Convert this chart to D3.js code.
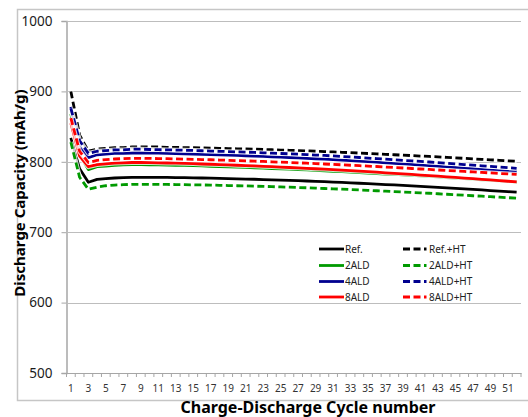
<!DOCTYPE html>
<html>
<head>
<meta charset="utf-8">
<script src="https://cdn.jsdelivr.net/npm/d3@7"></script>
<style>
body { margin: 0; background: #fff; }
text { font-family: "Noto Sans", "DejaVu Sans", sans-serif; }
</style>
</head>
<body>
<script>
const width = 528, height = 417;

// cycle numbers 1..52
const cycles = [1,2,3,4,5,6,7,8,9,10,11,12,13,14,15,16,17,18,19,20,21,22,23,24,25,26,
  27,28,29,30,31,32,33,34,35,36,37,38,39,40,41,42,43,44,45,46,47,48,49,50,51,52];
const yTicks = [500, 600, 700, 800, 900, 1000];
const xLabels = [1,3,5,7,9,11,13,15,17,19,21,23,25,27,29,31,33,35,37,39,41,43,45,47,49,51];

const refData = [834,790,771,775,776,777,777.5,778,778,
  778,777.9,777.8,777.6,777.4,777.2,777,776.7,776.4,776.1,775.8,775.5,775.2,774.8,774.4,774,773.6,773.2,
  772.7,772.2,771.7,771.2,770.7,770.1,769.5,768.9,768.3,767.7,767.1,766.5,765.8,765.1,764.4,763.7,763,
  762.3,761.6,760.8,760,759.2,758.4,757.6,756.8];
const ald2Data = [868,810,789,793,794,795,795.5,796,796,
  795.8,795.6,795.4,795.1,794.8,794.5,794.1,793.7,793.3,792.9,792.5,792,791.5,791,790.5,790,789.5,789,
  788.4,787.8,787.2,786.6,786,785.4,784.8,784.1,783.4,782.7,782,781.3,780.6,779.9,779.2,778.5,777.7,
  776.9,776.1,775.3,774.5,773.7,772.9,772.1,771.3];
const ald4Data = [878,822,806,810,811,812,812,812.5,812.5,
  812.5,812.2,811.9,811.6,811.3,811,810.6,810.2,809.8,809.4,809,808.6,808.1,807.6,807.1,806.6,806.1,805.5,
  804.9,804.3,803.7,803.1,802.4,801.7,801,800.2,799.4,798.6,797.8,797,796.2,795.4,794.6,793.7,792.8,
  791.9,791,790.1,789.2,788.3,787.4,786.5,785.6];
const ald8Data = [855,808,793,796,797,798,798.5,799,799,
  798.8,798.6,798.3,798,797.7,797.3,796.9,796.5,796.1,795.6,795.1,794.6,794.1,793.6,793.1,792.5,791.9,
  791.3,790.7,790.1,789.5,788.8,788.1,787.4,786.7,786,785.2,784.4,783.6,782.8,782,781.2,780.4,779.6,
  778.7,777.8,776.9,776,775.1,774.2,773.3,772.4,771.5];
const refHtData = [900,838,815,818,819,820,820,821,821,
  821,821,820.6,820.4,820.2,820,819.7,819.4,819.1,818.8,818.5,818.2,817.9,817.5,817.1,816.7,816.3,815.9,
  815.5,815,814.5,814,813.5,813,812.4,811.8,811.2,810.6,810,809.4,808.8,808.2,807.6,807,806.3,
  805.6,804.9,804.2,803.5,802.8,802.1,801.4,800.7];
const ald2HtData = [828,778,761,764,766,767,767.5,768,768,
  768,767.9,767.8,767.7,767.5,767.3,767.1,766.9,766.6,766.3,766,765.7,765.4,765.1,764.7,764.3,763.9,763.5,
  763.1,762.6,762.1,761.6,761.1,760.6,760.1,759.5,758.9,758.3,757.7,757.1,756.5,755.9,755.3,754.6,753.9,
  753.2,752.5,751.8,751.1,750.4,749.7,749,748.3];
const ald4HtData = [876,830,812,815,816,817,817,818,818,
  817.5,817.2,817,816.7,816.4,816.1,815.7,815.3,814.9,814.5,814.1,813.7,813.3,812.8,812.3,811.8,811.3,
  810.8,810.2,809.6,809,808.3,807.6,806.9,806.1,805.3,804.5,803.7,802.9,802.1,801.3,800.5,799.7,798.8,
  797.9,797,796.1,795.2,794.3,793.4,792.5,791.6,790.7];
const ald8HtData = [862,815,799,802,803,804,804.5,805,805,
  804.8,804.6,804.4,804.1,803.8,803.5,803.2,802.9,802.5,802.1,801.7,801.3,800.9,800.5,800,799.5,799,
  798.5,798,797.5,796.9,796.3,795.7,795.1,794.5,793.9,793.3,792.6,791.9,791.2,790.5,789.8,789.1,788.4,
  787.7,787,786.3,785.6,784.9,784.2,783.5,782.8,782.1];

const seriesNames = ['Ref.', '2ALD', '4ALD', '8ALD', 'Ref.+HT', '2ALD+HT', '4ALD+HT', '8ALD+HT'];
const seriesValues = [refData, ald2Data, ald4Data, ald8Data, refHtData, ald2HtData, ald4HtData, ald8HtData];
const colors = ['#000000', '#009a00', '#00008f', '#ff0000'];

const series = seriesNames.map((name, i) => ({
  name: name,
  values: seriesValues[i],
  color: colors[i % 4],
  dashed: i >= 4
}));

const plot = {left: 66.5, right: 521, top: 21, bottom: 373};

var svg = d3.select('body').append('svg')
    .attr('width', width)
    .attr('height', height);

// chart area border
svg.append('path')
    .attr('d', 'M540,9.5 H17.5 V400.5 H540')
    .attr('fill', 'none')
    .attr('stroke', '#c6c6c6')
    .attr('stroke-width', 1.5);

var x = d3.scaleBand()
    .domain(cycles)
    .range([plot.left, plot.right]);

var y = d3.scaleLinear()
    .domain([500, 1000])
    .range([plot.bottom, plot.top]);

// gridlines + y axis
var yAxis = svg.append('g')
    .attr('transform', `translate(${plot.left},0)`)
    .call(d3.axisLeft(y).tickValues(yTicks).tickSize(5).tickPadding(9).tickFormat(d3.format('d')));
yAxis.select('.domain').attr('stroke', '#a6a6a6').attr('stroke-width', 1.5);
yAxis.selectAll('.tick line').attr('stroke', '#a6a6a6');
yAxis.selectAll('.tick text')
    .attr('font-size', 13.5)
    .attr('fill', '#1a1a1a')
    .style('font-family', '"Noto Sans", "DejaVu Sans", sans-serif');

svg.append('g')
    .selectAll('line')
    .data(yTicks.filter(d => d > 500))
  .enter().append('line')
    .attr('x1', plot.left)
    .attr('x2', plot.right)
    .attr('y1', d => Math.round(y(d)) + 0.5)
    .attr('y2', d => Math.round(y(d)) + 0.5)
    .attr('stroke', '#bdbdbd')
    .attr('stroke-width', 1.2);

// x axis: labels on odd cycles, tick marks between categories
var xAxis = svg.append('g')
    .attr('transform', `translate(0,${plot.bottom})`)
    .call(d3.axisBottom(x).tickValues(xLabels).tickSize(0).tickPadding(12));
xAxis.select('.domain').attr('stroke', '#a6a6a6').attr('stroke-width', 1.2);
xAxis.selectAll('.tick text')
    .attr('font-size', 10)
    .attr('fill', '#333')
    .style('font-family', '"Noto Sans", "DejaVu Sans", sans-serif');

xAxis.append('g')
    .selectAll('line')
    .data(cycles.concat(['end']))
  .enter().append('line')
    .attr('x1', d => d === 'end' ? plot.right : x(d))
    .attr('x2', d => d === 'end' ? plot.right : x(d))
    .attr('y1', 0)
    .attr('y2', 4)
    .attr('stroke', '#a6a6a6');

// lines
var line = d3.line()
    .x((d, i) => x(cycles[i]) + x.bandwidth() / 2)
    .y(d => y(d));

var lines = svg.append('g');
series.forEach(s => {
  lines.append('path')
      .attr('d', line(s.values))
      .attr('fill', 'none')
      .attr('stroke', '#fff')
      .attr('stroke-opacity', 0.8)
      .attr('stroke-width', 4.8)
      .attr('stroke-linejoin', 'round');
  lines.append('path')
      .attr('d', line(s.values))
      .attr('fill', 'none')
      .attr('stroke', s.color)
      .attr('stroke-width', 2.8)
      .attr('stroke-linejoin', 'round')
      .attr('stroke-dasharray', s.dashed ? '7,3.5' : null);
});

// legend
var legend = svg.append('g');
var legendRows = [249, 265.5, 281.5, 297];
series.forEach((s, i) => {
  var lx = s.dashed ? 403 : 319,
      ly = legendRows[i % 4];
  legend.append('line')
      .attr('x1', lx).attr('x2', lx + 25)
      .attr('y1', ly).attr('y2', ly)
      .attr('stroke', s.color)
      .attr('stroke-width', 2.8)
      .attr('stroke-dasharray', s.dashed ? '7,3.5,7,3.5,2.5' : null);
  legend.append('text')
      .attr('x', lx + 26)
      .attr('y', ly + 3.5)
      .attr('font-size', 10)
      .attr('fill', '#222')
      .text(s.name);
});

// axis titles
svg.append('text')
    .attr('transform', 'translate(25,193) rotate(-90)')
    .attr('text-anchor', 'middle')
    .attr('font-size', 15)
    .attr('font-weight', 'bold')
    .text('Discharge Capacity (mAh/g)');

svg.append('text')
    .attr('x', 308)
    .attr('y', 412.5)
    .attr('text-anchor', 'middle')
    .attr('font-size', 16)
    .attr('font-weight', 'bold')
    .text('Charge-Discharge Cycle number');
</script>
</body>
</html>
